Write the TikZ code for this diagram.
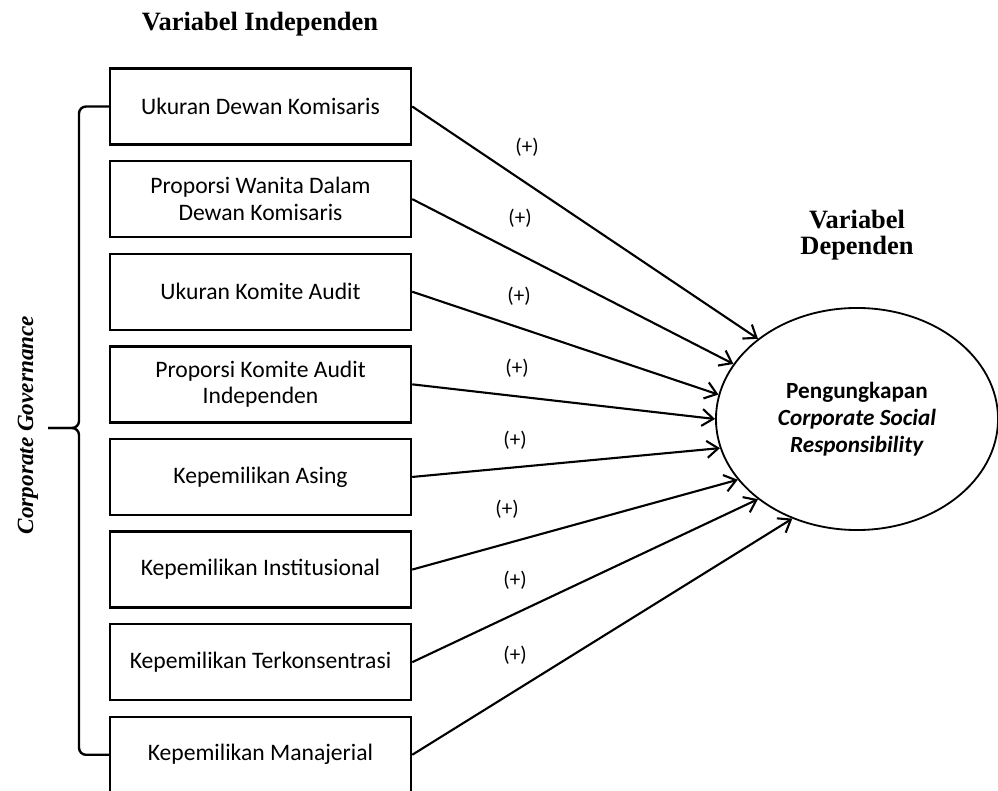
\documentclass[tikz,border=0pt]{standalone}
\usepackage{fontspec}
\setmainfont{Carlito}
\newfontfamily\headfont{Liberation Serif}
\usepackage{tikz}
\usetikzlibrary{shapes.geometric, arrows.meta, positioning, calc}

\begin{document}
\begin{tikzpicture}[
    x=0.025cm, y=0.025cm,
    node distance=0.355cm,
    varbox/.style={
        rectangle, draw=black, line width=1.7pt,
        minimum width=7.525cm, minimum height=1.9cm,
        font=\fontsize{16.8}{19}\selectfont, align=center
    },
    depnode/.style={
        ellipse, draw=black, line width=1.3pt,
        minimum width=7.05cm, minimum height=5.55cm,
        inner sep=0pt, font=\fontsize{16.5}{19}\selectfont, align=center
    },
    heading/.style={font=\headfont\bfseries\fontsize{18.8}{18.5}\selectfont, align=center},
    sign/.style={font=\fontsize{15}{17}\selectfont},
    govline/.style={line width=1.7pt, rounded corners=5pt},
    arr/.style={-{Straight Barb[length=8pt, width=12pt]}, line width=1.5pt}
]
\useasboundingbox (0,0) rectangle (998,790);

\node[heading] (indep) at (260,766) {Variabel Independen};

\node[varbox] (b1) at (260.5,683.5) {Ukuran Dewan Komisaris};
\node[varbox, below=of b1] (b2) {Proporsi Wanita Dalam\\Dewan Komisaris};
\node[varbox, below=of b2] (b3) {Ukuran Komite Audit};
\node[varbox, below=of b3] (b4) {Proporsi Komite Audit\\Independen};
\node[varbox, below=of b4] (b5) {Kepemilikan Asing};
\node[varbox, below=of b5] (b6) {Kepemilikan Institusional};
\node[varbox, below=of b6] (b7) {Kepemilikan Terkonsentrasi};
\node[varbox, below=of b7] (b8) {Kepemilikan Manajerial};

\node[depnode] (csr) at (857,371)
    {\textbf{Pengungkapan}\\\textbf{\textit{Corporate Social}}\\\textbf{\textit{Responsibility}}};
\node[heading] (dep) at (857,555) {Variabel\\Dependen};

% corporate governance bracket
\node[font=\headfont\bfseries\itshape\fontsize{16.5}{18}\selectfont, rotate=90] (gov) at (28,365) {Corporate Governance};
\coordinate (mid) at (79,362);
\coordinate (tip) at (48,362);
\draw[govline] (b1.west) -| (mid) -- (tip);
\draw[govline] (tip) -- (mid) |- (b8.west);

\foreach \a/\b in {b1/141, b2/156, b3/170, b4/180,
                   b5/192.5, b6/207, b7/219.5, b8/237.5}
  \draw[arr] (\a.east) -- (csr.\b);

\foreach \i/\x/\y in {1/527/643, 2/520/572, 3/519/494, 4/517/422,
                      5/515/350, 6/507/281, 7/515/210, 8/515/135}
  \node[sign] (s\i) at (\x,\y) {(+)};
\end{tikzpicture}
\end{document}
